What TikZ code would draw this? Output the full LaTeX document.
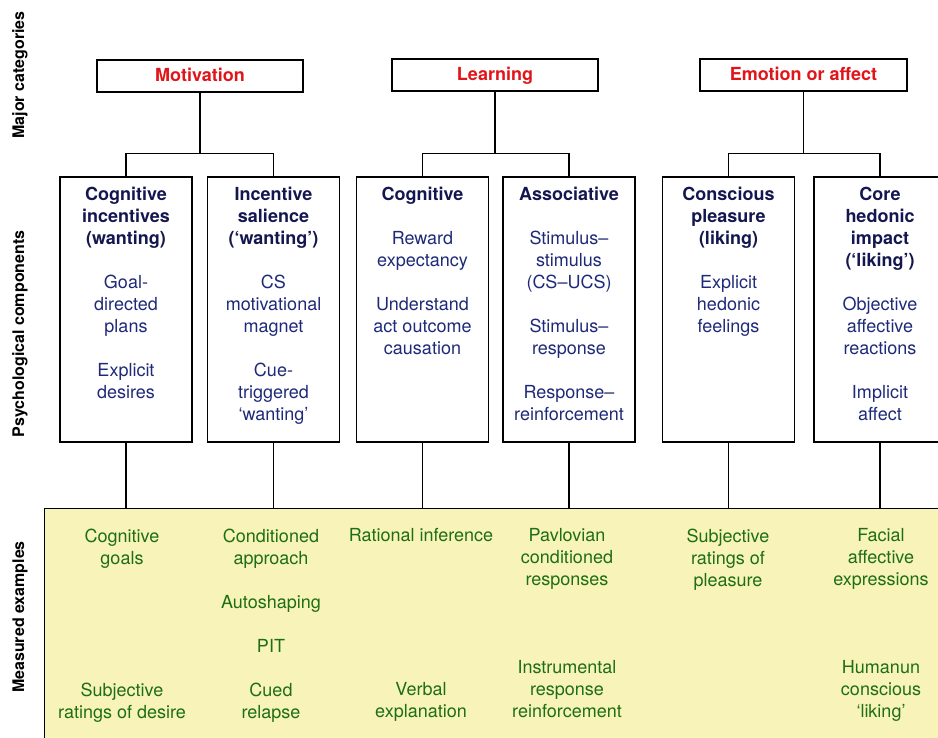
\documentclass[tikz,border=0pt]{standalone}
\usepackage{fontspec}
\setmainfont{TeX Gyre Heros}
\usetikzlibrary{positioning}

\definecolor{catred}{RGB}{225,20,25}
\definecolor{hdrblue}{RGB}{20,22,80}
\definecolor{itemblue}{RGB}{30,42,120}
\definecolor{exgreen}{RGB}{30,110,20}
\definecolor{exfill}{RGB}{248,244,185}

\newcommand{\hdr}[1]{\textcolor{hdrblue}{\bfseries #1}}

\begin{document}
\begin{tikzpicture}[x=1pt, y=-1pt,
  every node/.style={inner sep=0pt, align=center, font=\fontsize{18}{22}\selectfont},
  category/.style={draw, line width=1.3pt, minimum width=206pt, minimum height=32pt,
    text height=14pt, text depth=2pt,
    text=catred, font=\fontsize{18}{22}\selectfont\bfseries},
  component/.style={draw, line width=1.3pt, minimum width=132pt, minimum height=265pt},
  comptext/.style={text=itemblue},
  example/.style={anchor=north, text=exgreen},
  sidelabel/.style={rotate=90, font=\fontsize{16}{18}\selectfont\bfseries},
  link/.style={line width=1.3pt}
]
\useasboundingbox (0,0) rectangle (938,738);
\clip (0,0) rectangle (938,738);

% row labels
\node[sidelabel] (majlbl) at (20,75) {Major categories};
\node[sidelabel] (psylbl) at (20,334) {Psychological components};
\node[sidelabel] (measlbl) at (20,617) {Measured examples};

% measured examples panel
\node[draw, line width=1.3pt, fill=exfill, minimum width=920pt, minimum height=250pt,
  anchor=north west] (meas) at (44,508) {};

% major categories
\node[category] (motiv) at (200,76) {Motivation};
\node[category] (learn) at (495,75) {Learning};
\node[category, minimum width=207pt] (emot) at (803.5,75) {Emotion or affect};

% psychological components
\node[component] (cogwant) at (126,309.5) {};
\node[component] (incsal) at (273.5,309.5) {};
\node[component] (coglearn) at (422.5,309.5) {};
\node[component] (assoc) at (569,309.5) {};
\node[component] (conspl) at (728.5,309.5) {};
\node[component] (corehed) at (880,309.5) {};

\node[comptext, below=11pt of cogwant.north] (cogwanttxt)
  {\hdr{Cognitive}\\\hdr{incentives}\\\hdr{(wanting)}\\[22pt]
   Goal-\\directed\\plans\\[22pt]Explicit\\desires};
\node[comptext, below=11pt of incsal.north] (incsaltxt)
  {\hdr{Incentive}\\\hdr{salience}\\\hdr{(‘wanting’)}\\[22pt]
   CS\\motivational\\magnet\\[22pt]Cue-\\triggered\\‘wanting’};
\node[comptext, below=11pt of coglearn.north] (coglearntxt)
  {\hdr{Cognitive}\\[22pt]
   Reward\\expectancy\\[22pt]Understand\\act outcome\\causation};
\node[comptext, below=11pt of assoc.north] (assoctxt)
  {\hdr{Associative}\\[22pt]
   Stimulus–\\stimulus\\(CS–UCS)\\[22pt]Stimulus–\\response\\[22pt]Response–\\reinforcement};
\node[comptext, below=11pt of conspl.north] (consptxt)
  {\hdr{Conscious}\\\hdr{pleasure}\\\hdr{(liking)}\\[22pt]
   Explicit\\hedonic\\feelings};
\node[comptext, below=11pt of corehed.north] (corehedtxt)
  {\hdr{Core}\\\hdr{hedonic}\\\hdr{impact}\\\hdr{(‘liking’)}\\[22pt]
   Objective\\affective\\reactions\\[22pt]Implicit\\affect};

% measured examples
\node[example] (exgoals) at (122,528.5) {Cognitive\\goals};
\node[example] (exdesire) at (122,682.5) {Subjective\\ratings of desire};
\node[example] (excond) at (271,528.5)
  {Conditioned\\approach\\[22pt]Autoshaping\\[22pt]PIT\\[22pt]Cued\\relapse};
\node[example] (exrational) at (421,528.5) {Rational inference};
\node[example] (exverbal) at (421,682.5) {Verbal\\explanation};
\node[example] (expavlov) at (567,528.5) {Pavlovian\\conditioned\\responses};
\node[example] (exinstr) at (567,660.5) {Instrumental\\response\\reinforcement};
\node[example] (exratings) at (728,528.5) {Subjective\\ratings of\\pleasure};
\node[example] (exfacial) at (881,528.5) {Facial\\affective\\expressions};
\node[example] (exhuman) at (881,660.5) {Humanun\\conscious\\‘liking’};

% connectors
\draw[link] (motiv.south) -- ++(0,61) coordinate (motj);
\draw[link] (cogwant.north) |- (motj) -| (incsal.north);
\draw[link] (learn.south) -- ++(0,62) coordinate (lrnj);
\draw[link] (coglearn.north) |- (lrnj) -| (assoc.north);
\draw[link] (emot.south) -- ++(0,62) coordinate (emoj);
\draw[link] (conspl.north) |- (emoj) -| (corehed.north);

\foreach \c in {cogwant,incsal,coglearn,assoc,conspl,corehed}
  \draw[link] (\c.south) -- (\c.south |- meas.north);

\end{tikzpicture}
\end{document}
